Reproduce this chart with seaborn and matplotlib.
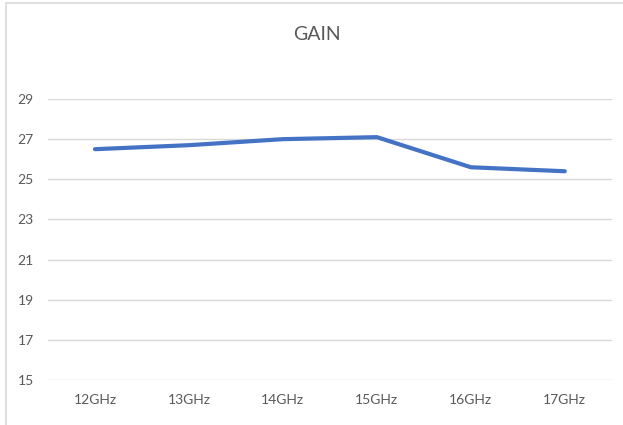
import matplotlib
matplotlib.use("Agg")
import matplotlib.pyplot as plt
import seaborn as sns
import pandas as pd
from matplotlib.lines import Line2D

# data
freqs = ["12GHz", "13GHz", "14GHz", "15GHz", "16GHz", "17GHz"]
gain = [26.5, 26.7, 27.0, 27.1, 25.6, 25.4]
yticks = [15, 17, 19, 21, 23, 25, 27, 29]

df = pd.DataFrame({"freq": freqs, "gain": gain})

sns.set_theme(style="white")
plt.rcParams["font.family"] = ["Lato", "DejaVu Sans"]

fig = plt.figure(figsize=(6.23, 4.25), dpi=100)
ax = fig.add_axes([0.077, 0.106, 0.905, 0.661])

sns.lineplot(ax=ax, data=df, x="freq", y="gain", color="#4472C4",
             linewidth=3, sort=False)

ax.set_xlim(-0.5, len(freqs) - 0.5)
ax.set_ylim(15, 29)
ax.set_yticks(yticks)
ax.yaxis.grid(True, color="#D9D9D9", linewidth=1)
ax.set_axisbelow(True)
for s in ax.spines.values():
    s.set_visible(False)
ax.tick_params(axis="both", length=0, labelsize=10, labelcolor="#595959")
ax.tick_params(axis="x", pad=10)
ax.tick_params(axis="y", pad=22)
for lbl in ax.get_yticklabels():
    lbl.set_horizontalalignment("left")
ax.set(xlabel="", ylabel="")

fig.text(317 / 623, 1 - 35 / 425, "GAIN", ha="center", va="center",
         fontsize=14, color="#595959")

# chart frame edges (top and left) seen in the screenshot
fig.add_artist(Line2D([6 / 623, 6 / 623], [0, 1 - 3 / 425],
                      transform=fig.transFigure, color="#D9D9D9", linewidth=1.2))
fig.add_artist(Line2D([6 / 623, 1], [1 - 3 / 425, 1 - 3 / 425],
                      transform=fig.transFigure, color="#D9D9D9", linewidth=1.2))

fig.savefig("out.png", dpi=100)
plt.close(fig)
